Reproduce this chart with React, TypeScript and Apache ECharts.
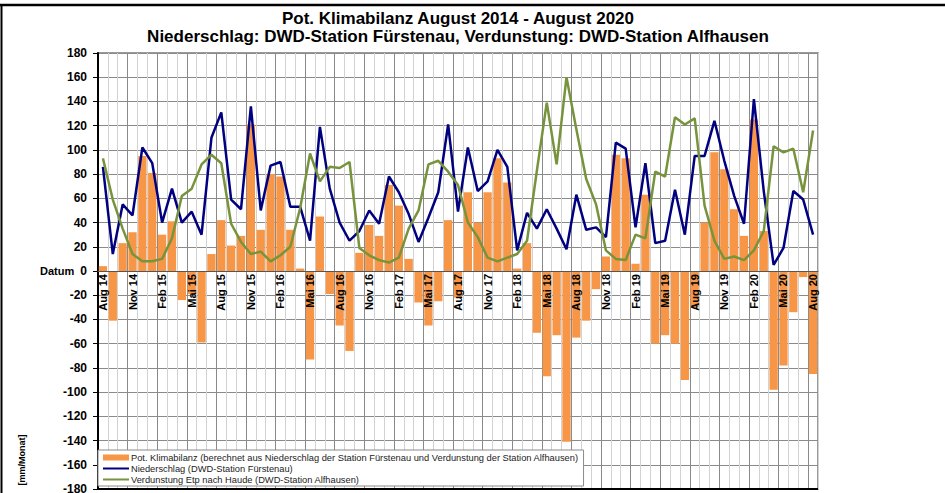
import React, { useEffect, useRef } from 'react';
import * as echarts from 'echarts';

const categories = [
  'Aug 14', 'Sep 14', 'Okt 14', 'Nov 14', 'Dez 14',
  'Jan 15', 'Feb 15', 'Mrz 15', 'Apr 15', 'Mai 15', 'Jun 15', 'Jul 15', 'Aug 15', 'Sep 15', 'Okt 15', 'Nov 15', 'Dez 15',
  'Jan 16', 'Feb 16', 'Mrz 16', 'Apr 16', 'Mai 16', 'Jun 16', 'Jul 16', 'Aug 16', 'Sep 16', 'Okt 16', 'Nov 16', 'Dez 16',
  'Jan 17', 'Feb 17', 'Mrz 17', 'Apr 17', 'Mai 17', 'Jun 17', 'Jul 17', 'Aug 17', 'Sep 17', 'Okt 17', 'Nov 17', 'Dez 17',
  'Jan 18', 'Feb 18', 'Mrz 18', 'Apr 18', 'Mai 18', 'Jun 18', 'Jul 18', 'Aug 18', 'Sep 18', 'Okt 18', 'Nov 18', 'Dez 18',
  'Jan 19', 'Feb 19', 'Mrz 19', 'Apr 19', 'Mai 19', 'Jun 19', 'Jul 19', 'Aug 19', 'Sep 19', 'Okt 19', 'Nov 19', 'Dez 19',
  'Jan 20', 'Feb 20', 'Mrz 20', 'Apr 20', 'Mai 20', 'Jun 20', 'Jul 20', 'Aug 20',
];

// Pot. Klimabilanz (mm/Monat)
const klimabilanz = [
  4, -41, 23, 32, 95,
  81, 30, 41, -24, -19, -59, 14, 42, 21, 29, 121, 34,
  80, 78, 34, 2, -73, 45, -19, -45, -66, 15, 38, 29,
  71, 54, 10, -26, -45, -25, 42, -22, 65, 40, 65, 93,
  73, 2, 23, -51, -87, -53, -141, -55, -41, -15, 12, 96,
  93, 6, 63, -60, -53, -60, -90, -30, 40, 98, 84, 51,
  29, 125, 33, -98, -78, -34, -5, -85,
];

// Niederschlag (DWD-Station Fürstenau)
const niederschlag = [
  86, 14, 55, 46, 102,
  89, 40, 68, 40, 49, 30, 110, 131, 59, 51, 136, 50,
  87, 90, 53, 53, 25, 119, 68, 40, 25, 33, 50, 39,
  78, 65, 47, 24, 44, 65, 121, 49, 102, 66, 74, 100,
  86, 17, 48, 35, 51, 35, 18, 63, 34, 36, 28, 106,
  101, 36, 89, 23, 25, 67, 30, 95, 95, 124, 91, 62,
  39, 142, 66, 5, 19, 66, 59, 30,
];

// Verdunstung Etp nach Haude (DWD-Station Alfhausen)
const verdunstung = [
  93, 59, 35, 14, 8,
  8, 10, 27, 62, 68, 88, 96, 89, 39, 24, 14, 16,
  8, 13, 20, 52, 97, 74, 86, 85, 90, 19, 13, 9,
  7, 11, 35, 50, 88, 91, 82, 71, 40, 28, 11, 8,
  11, 14, 25, 83, 139, 88, 160, 117, 76, 55, 17, 10,
  9, 30, 27, 82, 78, 127, 121, 126, 54, 25, 10, 12,
  9, 17, 33, 103, 98, 101, 65, 116,
];

const NAME_BAR = 'Pot. Klimabilanz (berechnet aus Niederschlag der Station Fürstenau und Verdunstung der Station Alfhausen)';
const NAME_N = 'Niederschlag (DWD-Station Fürstenau)';
const NAME_V = 'Verdunstung Etp nach Haude (DWD-Station Alfhausen)';

const FONT = '"Liberation Sans", Arial, sans-serif';

// thin horizontal stripe inside a 26x6 box (tiny corner marks fix the bounding box)
const LINE_ICON =
  'path://M0,0 L0.01,0 L0,0.01 Z M26,6 L25.99,6 L26,5.99 Z M0,2 L26,2 L26,4 L0,4 Z';

const GRID_TOP = 53;
const GRID_BOTTOM = 4;
const CHART_H = 493;
const Y_MIN = -180;
const Y_MAX = 180;

export default function App() {
  const ref = useRef<HTMLDivElement>(null);

  useEffect(() => {
    if (!ref.current) return;
    const chart = echarts.init(ref.current, undefined, { renderer: 'svg' });
    // distance from the grid's bottom edge up to the zero line
    const plotH = CHART_H - GRID_TOP - GRID_BOTTOM;
    const zeroOffset = -(plotH * (0 - Y_MIN)) / (Y_MAX - Y_MIN);
    chart.setOption({
      animation: false,
      backgroundColor: '#ffffff',
      textStyle: { fontFamily: FONT },
      grid: {
        left: 98,
        right: 127,
        top: GRID_TOP,
        bottom: GRID_BOTTOM,
        show: true,
        borderColor: '#7a7a7a',
        borderWidth: 1.5,
        backgroundColor: 'transparent',
        outerBoundsMode: 'none',
        containLabel: false,
      },
      legend: {
        orient: 'vertical',
        left: 98,
        top: 450,
        itemWidth: 26,
        itemHeight: 6,
        itemGap: 2,
        padding: [3, 5, 2, 5],
        backgroundColor: '#ffffff',
        borderColor: '#8a8a8a',
        borderWidth: 1,
        borderRadius: 0,
        z: 20,
        textStyle: { fontSize: 9.3, color: '#222', fontFamily: FONT, padding: [0, 0, 0, -3] },
        data: [
          { name: NAME_BAR, icon: 'rect' },
          { name: NAME_N, icon: LINE_ICON, itemStyle: { color: '#000080' } },
          { name: NAME_V, icon: LINE_ICON, itemStyle: { color: '#77933c' } },
        ],
      },
      xAxis: [
        {
          type: 'category',
          data: categories,
          position: 'bottom',
          offset: zeroOffset,
          z: 10,
          axisLine: { show: true, onZero: false, lineStyle: { color: '#555', width: 1 } },
          axisTick: { show: false },
          axisLabel: {
            interval: 2,
            rotate: 90,
            fontSize: 11,
            fontWeight: 'bold',
            color: '#000',
            margin: 3,
            fontFamily: FONT,
          },
          splitLine: { show: false },
        },
        {
          type: 'category',
          data: categories,
          position: 'top',
          axisLine: { show: false, onZero: false },
          axisTick: { show: false },
          axisLabel: { show: false },
          splitLine: {
            show: true,
            interval: 0,
            lineStyle: { color: ['#8a8a8a', '#d2d2d2', '#d2d2d2'], width: 1 },
          },
        },
      ],
      yAxis: {
        type: 'value',
        min: Y_MIN,
        max: Y_MAX,
        interval: 20,
        axisLine: { show: true, onZero: false, lineStyle: { color: '#000', width: 2 } },
        axisTick: { show: true, length: 5, lineStyle: { color: '#000', width: 1 } },
        axisLabel: { fontSize: 12, fontWeight: 'bold', color: '#000', margin: 11, fontFamily: FONT },
        splitLine: { show: true, lineStyle: { color: '#8a8a8a', width: 1 } },
      },
      series: [
        {
          name: NAME_BAR,
          type: 'bar',
          data: klimabilanz,
          xAxisIndex: 0,
          barCategoryGap: '16%',
          itemStyle: { color: '#f79646' },
          z: 2,
          markLine: {
            silent: true,
            symbol: 'none',
            label: { show: false },
            lineStyle: { color: '#000', width: 2, type: 'solid' },
            data: [{ yAxis: Y_MIN }],
          },
        },
        {
          name: NAME_N,
          type: 'line',
          data: niederschlag,
          xAxisIndex: 0,
          symbol: 'none',
          lineStyle: { color: '#000080', width: 2.5 },
          itemStyle: { color: '#000080' },
          z: 3,
        },
        {
          name: NAME_V,
          type: 'line',
          data: verdunstung,
          xAxisIndex: 0,
          symbol: 'none',
          lineStyle: { color: '#77933c', width: 2.5 },
          itemStyle: { color: '#77933c' },
          z: 4,
        },
      ],
      graphic: [
        { type: 'line', shape: { x1: 0, y1: 5, x2: 945, y2: 5 }, style: { stroke: '#000', lineWidth: 2.5 } },
        { type: 'line', shape: { x1: 1.5, y1: 5, x2: 1.5, y2: 493 }, style: { stroke: '#000', lineWidth: 2 } },
        {
          type: 'text', x: 458, y: 18,
          style: { text: 'Pot. Klimabilanz August 2014 - August 2020', fontSize: 17, fontWeight: 'bold', fontFamily: FONT, fill: '#000', align: 'center', verticalAlign: 'middle' },
        },
        {
          type: 'text', x: 458, y: 36,
          style: { text: 'Niederschlag: DWD-Station Fürstenau, Verdunstung: DWD-Station Alfhausen', fontSize: 17, fontWeight: 'bold', fontFamily: FONT, fill: '#000', align: 'center', verticalAlign: 'middle' },
        },
        {
          type: 'text', x: 40, y: 271,
          style: { text: 'Datum', fontSize: 11, fontWeight: 'bold', fontFamily: FONT, fill: '#000', align: 'left', verticalAlign: 'middle' },
        },
        {
          type: 'text', x: 22, y: 460, rotation: Math.PI / 2,
          style: { text: '[mm/Monat]', fontSize: 9, fontWeight: 'bold', fontFamily: FONT, fill: '#000', align: 'center', verticalAlign: 'middle' },
        },
      ],
    });
    return () => chart.dispose();
  }, []);

  return (
    <div
      ref={ref}
      style={{ position: 'absolute', left: 0, top: 0, width: 945, height: 493 }}
    />
  );
}
